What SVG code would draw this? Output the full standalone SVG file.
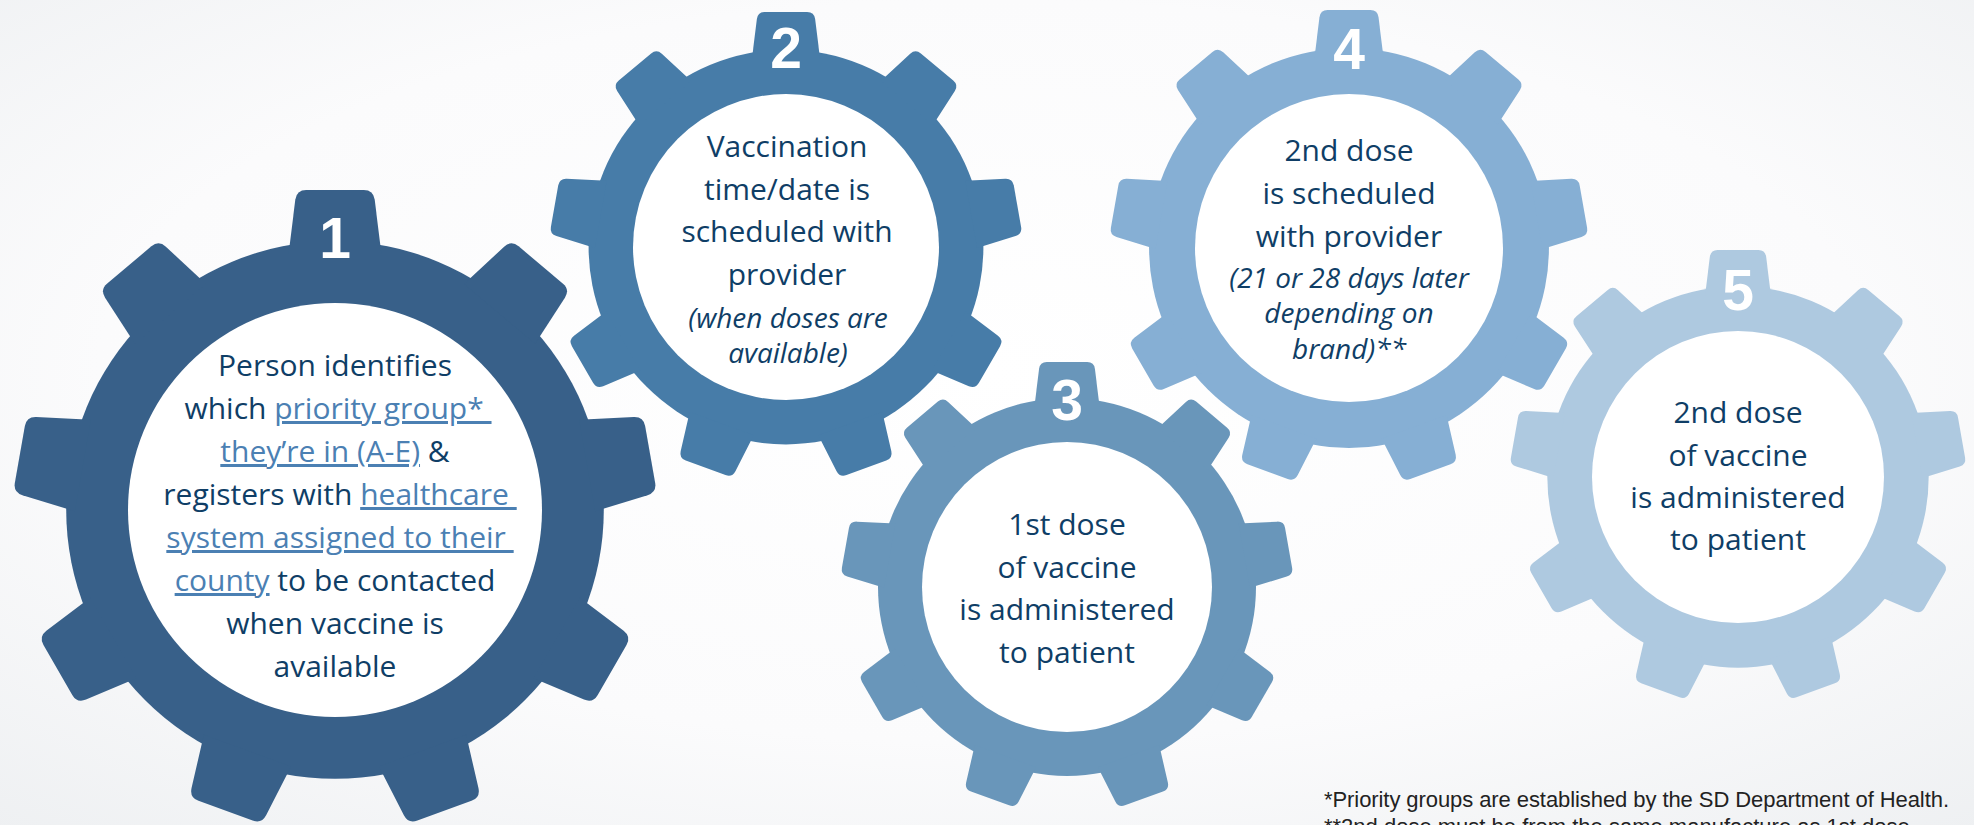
<svg xmlns="http://www.w3.org/2000/svg" width="1974" height="825" viewBox="0 0 1974 825">
<defs>
  <radialGradient id="bg" cx="0.5" cy="0.45" r="0.75">
    <stop offset="0" stop-color="#ffffff"/>
    <stop offset="0.6" stop-color="#fbfbfc"/>
    <stop offset="1" stop-color="#eef0f2"/>
  </radialGradient>
  <path id="tooth" d="M-14.5,-80 L-12.4,-97 Q-12,-100 -9,-100 L9,-100 Q12,-100 12.4,-97 L14.5,-80 Z"/>
  <g id="gear">
    <circle r="84"/>
    <use href="#tooth"/>
    <use href="#tooth" transform="rotate(40)"/>
    <use href="#tooth" transform="rotate(80)"/>
    <use href="#tooth" transform="rotate(120)"/>
    <use href="#tooth" transform="rotate(160)"/>
    <use href="#tooth" transform="rotate(-40)"/>
    <use href="#tooth" transform="rotate(-80)"/>
    <use href="#tooth" transform="rotate(-120)"/>
    <use href="#tooth" transform="rotate(-160)"/>
  </g>
</defs>
<style>
  .t{font-family:"Open Sans","Liberation Sans",sans-serif;font-size:30px;fill:#0f3e66;text-anchor:middle}
  .i{font-style:italic;font-size:28px}
  .lk{fill:#4b80b3;text-decoration:underline}
  .num{font-family:"Liberation Sans",Arial,sans-serif;font-weight:bold;font-size:57px;fill:#ffffff;text-anchor:middle}
  .hole{fill:#ffffff}
  .fn{font-family:"Liberation Sans",Arial,sans-serif;font-size:22px;fill:#222222}
</style>
<rect width="1974" height="825" fill="url(#bg)"/>

<g id="connectors"/>

<g id="step1">
  <use href="#gear" transform="translate(335,510) scale(3.2)" fill="#386089"/>
  <circle class="hole" cx="335" cy="510" r="207"/>
  <text class="num" x="335" y="258">1</text>
  <text class="t" x="335" y="376">Person identifies</text>
  <text class="t" x="338" y="419">which <tspan class="lk">priority group*&#160;</tspan></text>
  <text class="t" x="335" y="462"><tspan class="lk">they’re in (A-E)</tspan> &amp;</text>
  <text class="t" x="340" y="505">registers with <tspan class="lk">healthcare&#160;</tspan></text>
  <text class="t" x="340" y="548"><tspan class="lk">system assigned to their&#160;</tspan></text>
  <text class="t" x="335" y="591"><tspan class="lk">county</tspan> to be contacted</text>
  <text class="t" x="335" y="634">when vaccine is</text>
  <text class="t" x="335" y="677">available</text>
</g>

<g id="step2">
  <use href="#gear" transform="translate(786,247) scale(2.35)" fill="#477ca8"/>
  <circle class="hole" cx="786" cy="247" r="153"/>
  <text class="num" x="786" y="68">2</text>
  <text class="t" x="787" y="157">Vaccination</text>
  <text class="t" x="787" y="200">time/date is</text>
  <text class="t" x="787" y="242">scheduled with</text>
  <text class="t" x="787" y="285">provider</text>
  <text class="t i" x="788" y="328">(when doses are</text>
  <text class="t i" x="788" y="363">available)</text>
</g>

<g id="step3">
  <use href="#gear" transform="translate(1067,587) scale(2.25)" fill="#6996ba"/>
  <circle class="hole" cx="1067" cy="587" r="145"/>
  <text class="num" x="1067" y="420">3</text>
  <text class="t" x="1067" y="535">1st dose</text>
  <text class="t" x="1067" y="578">of vaccine</text>
  <text class="t" x="1067" y="620">is administered</text>
  <text class="t" x="1067" y="663">to patient</text>
</g>

<g id="step4">
  <use href="#gear" transform="translate(1349,248) scale(2.38)" fill="#86afd4"/>
  <circle class="hole" cx="1349" cy="248" r="154"/>
  <text class="num" x="1349" y="69">4</text>
  <text class="t" x="1349" y="161">2nd dose</text>
  <text class="t" x="1349" y="204">is scheduled</text>
  <text class="t" x="1349" y="247">with provider</text>
  <text class="t i" x="1349" y="288">(21 or 28 days later</text>
  <text class="t i" x="1349" y="323">depending on</text>
  <text class="t i" x="1349" y="359">brand)**</text>
</g>

<g id="step5">
  <use href="#gear" transform="translate(1738,477) scale(2.27)" fill="#aec9e0"/>
  <circle class="hole" cx="1738" cy="477" r="146"/>
  <text class="num" x="1738" y="310">5</text>
  <text class="t" x="1738" y="423">2nd dose</text>
  <text class="t" x="1738" y="466">of vaccine</text>
  <text class="t" x="1738" y="508">is administered</text>
  <text class="t" x="1738" y="550">to patient</text>
</g>

<g id="footnotes">
  <text class="fn" x="1324" y="807" textLength="625">*Priority groups are established by the SD Department of Health.</text>
  <text class="fn" x="1324" y="834">**2nd dose must be from the same manufacture as 1st dose.</text>
</g>
</svg>
